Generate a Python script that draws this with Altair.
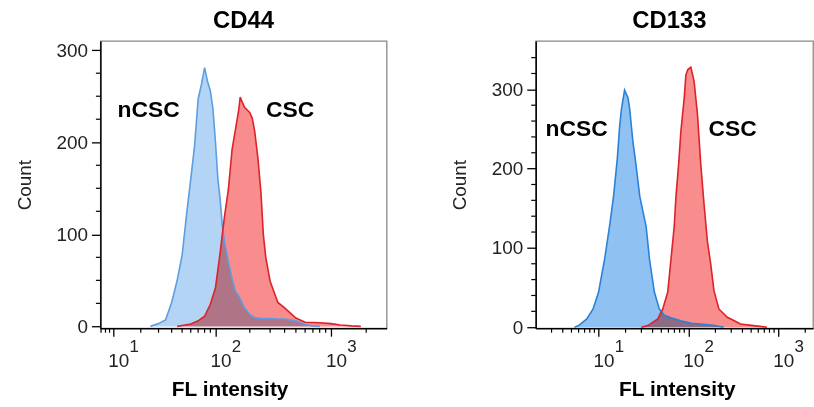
import altair as alt
import pandas as pd

FONT = "Liberation Sans"

# ---------------- CD44 panel data ----------------
cd44_ncsc_x = [25, 30, 35, 40, 45, 50, 55, 60, 65, 70, 75, 80, 85, 90, 95, 100, 105, 110, 115, 120,
               130, 140, 150, 160, 180, 200, 220, 250, 300, 350, 400, 500, 600, 700, 800]
cd44_ncsc_count = [0, 3, 7, 26, 50, 77, 122, 160, 196, 247, 263, 281, 266, 256, 236, 200, 160, 138, 109, 92,
                   70, 52, 38, 33, 20, 13, 9.5, 8.5, 8.5, 8, 8, 6, 2, 0.5, 0]

cd44_csc_x = [45, 50, 60, 70, 80, 90, 100, 110, 120, 130, 140, 150, 160, 165, 170, 180, 190, 200, 210, 220,
              235, 250, 262, 275, 300, 350, 400, 500, 600, 800, 1000, 1200, 1500, 1800]
cd44_csc_count = [0, 1, 2.5, 6, 11, 24, 42, 80, 119, 149, 192, 214, 235, 249, 245, 238, 235, 232, 226, 213,
                  183, 145, 100, 75, 49, 26, 20, 9, 4.5, 4, 3, 1.5, 0.5, 0]

# ---------------- CD133 panel data ----------------
cd133_ncsc_x = [5.4, 6.0, 7.4, 8.7, 10, 11.7, 13.3, 14.7, 16.2, 17.2, 18.0, 19.5, 21.3, 22.2, 23.2, 24.2,
                25.6, 28.8, 33.9, 36.9, 41.9, 47.5, 54, 64, 90, 107, 138, 191, 247]
cd133_ncsc_count = [0, 2, 10.5, 23, 44, 86, 128, 165, 213, 254, 275, 299, 289, 276, 254, 233,
                    213, 165, 127, 86, 44, 23, 15, 12, 7, 5, 4, 2.5, 0]

cd133_csc_x = [29.9, 35.4, 45.7, 51.9, 58.9, 64.1, 69.7, 72.8, 77.9, 82.6, 89.9, 93.8, 98.7, 106.6,
               115.9, 126.4, 137.5, 149.5, 163, 177.3, 192.8, 218.8, 271, 321, 380, 533, 750]
cd133_csc_count = [0, 2, 10.4, 23, 44, 86, 128, 165, 205, 247, 289, 318, 325, 328,
                   310, 268, 205, 155, 108, 80, 46, 23, 12.5, 8.4, 4, 2, 0]

# ---------------- annotations / ticks ----------------
group_labels = ["nCSC", "CSC"]
cd44_label_x = [24, 446]
cd44_label_y = [235, 235]
cd133_label_x = [5.7, 310]
cd133_label_y = [250, 250]

x_major = [10, 100, 1000]
x_exponent = ["1", "2", "3"]
cd44_x_minor = [7, 8, 9, 20, 30, 40, 50, 60, 70, 80, 90, 200, 300, 400, 500, 600, 700, 800, 900, 2000]
cd133_x_minor = [3, 4, 5, 6, 7, 8, 9, 20, 30, 40, 50, 60, 70, 80, 90, 200, 300, 400, 500, 600, 700, 800, 900, 2000]
y_major = [0, 100, 200, 300]
cd44_y_minor = [25, 50, 75, 125, 150, 175, 225, 250, 275]
cd133_y_minor = [20, 40, 60, 80, 120, 140, 160, 180, 220, 240, 260, 280, 320, 340]

cd44_x_domain = [6.86, 2988]
cd44_y_domain = [-2, 310]
cd133_x_domain = [2.0, 2440]
cd133_y_domain = [-1.3, 361]

H = 289


def panel(title, nx, ny, cx, cy, xscale, ydomain, W, lab_x, lab_y, x_minor, y_minor,
          blue_fill, blue_line, red_fill, red_line, title_dx, xtitle_x):
    yscale = alt.Scale(domain=ydomain, nice=False, zero=False)
    df_n = pd.DataFrame({"x": nx, "count": ny})
    df_c = pd.DataFrame({"x": cx, "count": cy})

    X = alt.X("x:Q", scale=xscale,
              axis=alt.Axis(values=x_major, labelExpr="'10'", title="FL intensity",
                            labelOffset=5, titleX=xtitle_x))
    Y = alt.Y("count:Q", scale=yscale,
              axis=alt.Axis(values=y_major, title="Count"))

    area_n = alt.Chart(df_n).mark_area(color=blue_fill, blend="multiply").encode(x=X, y=Y)
    area_c = alt.Chart(df_c).mark_area(color=red_fill, blend="multiply").encode(x=X, y=Y)
    line_n = alt.Chart(df_n).mark_line(color=blue_line, strokeWidth=1.6).encode(x=X, y=Y)
    line_c = alt.Chart(df_c).mark_line(color=red_line, strokeWidth=1.6).encode(x=X, y=Y)

    df_lab = pd.DataFrame({"x": lab_x, "count": lab_y, "t": group_labels})
    labels = alt.Chart(df_lab).mark_text(font=FONT, fontSize=23, fontWeight="bold", color="black",
                                         align="center", baseline="middle").encode(x=X, y=Y, text="t:N")

    df_sup = pd.DataFrame({"x": x_major, "t": x_exponent})
    sup = alt.Chart(df_sup).mark_text(font=FONT, fontSize=17, color="#222", align="center",
                                      baseline="alphabetic", dx=21).encode(
        x=X, y=alt.value(H + 24), text="t:N")

    df_xm = pd.DataFrame({"x": x_minor})
    xminor = alt.Chart(df_xm).mark_rule(color="black", strokeWidth=1.2).encode(
        x=X, y=alt.value(H), y2=alt.value(H + 4.5))

    df_ym = pd.DataFrame({"count": y_minor})
    yminor = alt.Chart(df_ym).mark_rule(color="black", strokeWidth=1.2).encode(
        y=Y, x=alt.value(-4.5), x2=alt.value(0))

    return alt.layer(area_n, area_c, line_n, line_c, labels, sup, xminor, yminor).properties(
        width=W, height=H,
        title=alt.TitleParams(title, fontSize=24, fontWeight="bold", font=FONT, color="black",
                              anchor="middle", offset=8, dx=title_dx))


left = panel("CD44", cd44_ncsc_x, cd44_ncsc_count, cd44_csc_x, cd44_csc_count,
             alt.Scale(type="symlog", constant=4, domain=cd44_x_domain, nice=False, zero=False),
             cd44_y_domain, 288, cd44_label_x, cd44_label_y, cd44_x_minor, cd44_y_minor,
             "#b3d4f5", "#5c9ee0", "#f98c8c", "#dd2229", 0, 130)
right = panel("CD133", cd133_ncsc_x, cd133_ncsc_count, cd133_csc_x, cd133_csc_count,
              alt.Scale(type="log", domain=cd133_x_domain, nice=False),
              cd133_y_domain, 279, cd133_label_x, cd133_label_y, cd133_x_minor, cd133_y_minor,
              "#8fc2f2", "#2a82d8", "#f98c8c", "#dd2229", -5, 142)

chart = alt.hconcat(left, right, spacing=62).configure(
    padding={"left": 14, "top": 7, "right": 0, "bottom": 0}, background="white"
).configure_view(
    stroke="#888888", strokeWidth=1.3
).configure_axis(
    grid=False, domainColor="black", domainWidth=1.5, tickColor="black", tickWidth=1.3,
    labelFont=FONT, labelFontSize=19, labelColor="#222222", titleFont=FONT, titleColor="black",
    labelOverlap=False
).configure_axisX(
    tickSize=8, labelPadding=16, titleFontSize=21, titleFontWeight="bold", titlePadding=8
).configure_axisY(
    tickSize=9, labelPadding=4, titleFontSize=19, titleFontWeight="normal", titlePadding=22,
    titleColor="#222222"
)

chart.save("out.html", embed_options={"renderer": "svg", "actions": False})
